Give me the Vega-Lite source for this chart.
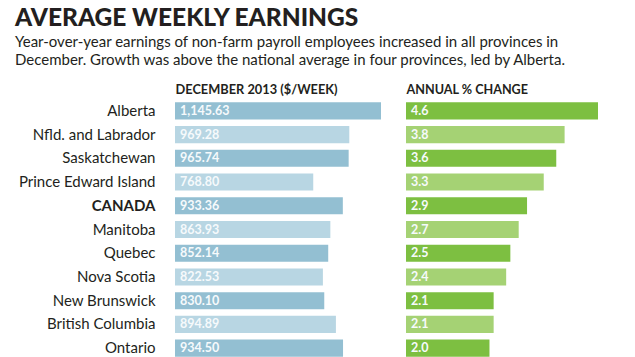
{
  "$schema": "https://vega.github.io/schema/vega-lite/v6.json",
  "width": 620,
  "height": 258,
  "autosize": {"type": "none"},
  "padding": {"left": 15, "top": 99, "right": 0, "bottom": 0},
  "background": "white",
  "config": {"view": {"stroke": null}},
  "title": {
    "text": "AVERAGE WEEKLY EARNINGS",
    "subtitle": ["Year-over-year earnings of non-farm payroll employees increased in all provinces in", "December. Growth was above the national average in four provinces, led by Alberta."],
    "anchor": "start",
    "frame": "group",
    "font": "Lato",
    "fontSize": 24.5,
    "fontWeight": 900,
    "color": "#231f20",
    "subtitleFont": "Lato",
    "subtitleFontSize": 15,
    "subtitleColor": "#231f20",
    "subtitlePadding": 4,
    "subtitleLineHeight": 18,
    "offset": 14
  },
  "data": {"values": [
    {"rank": 1, "province": "Alberta", "earnings": 1145.63, "change": 4.6},
    {"rank": 2, "province": "Nfld. and Labrador", "earnings": 969.28, "change": 3.8},
    {"rank": 3, "province": "Saskatchewan", "earnings": 965.74, "change": 3.6},
    {"rank": 4, "province": "Prince Edward Island", "earnings": 768.80, "change": 3.3},
    {"rank": 5, "province": "CANADA", "earnings": 933.36, "change": 2.9},
    {"rank": 6, "province": "Manitoba", "earnings": 863.93, "change": 2.7},
    {"rank": 7, "province": "Quebec", "earnings": 852.14, "change": 2.5},
    {"rank": 8, "province": "Nova Scotia", "earnings": 822.53, "change": 2.4},
    {"rank": 9, "province": "New Brunswick", "earnings": 830.10, "change": 2.1},
    {"rank": 10, "province": "British Columbia", "earnings": 894.89, "change": 2.1},
    {"rank": 11, "province": "Ontario", "earnings": 934.50, "change": 2.0}
  ]},
  "encoding": {
    "y": {
      "field": "province",
      "type": "nominal",
      "sort": null,
      "scale": {"range": [0, 261], "paddingInner": 0.28, "paddingOuter": 0.14},
      "axis": {
        "title": null,
        "orient": "left",
        "offset": -140,
        "ticks": false,
        "tickSize": 0,
        "domain": false,
        "grid": false,
        "labelPadding": 0,
        "labelFont": "Lato",
        "labelFontSize": 15,
        "labelColor": "#231f20",
        "labelFontWeight": {"condition": {"test": "datum.value == 'CANADA'", "value": "bold"}, "value": "normal"}
      }
    }
  },
  "layer": [
    {
      "encoding": {
        "x": {
          "field": "earnings",
          "type": "quantitative",
          "scale": {"domain": [0, 1145.63], "range": [160, 366], "nice": false, "zero": true},
          "axis": {
            "orient": "top",
            "title": "DECEMBER 2013 ($/WEEK)",
            "labels": false,
            "ticks": false,
            "domain": false,
            "grid": false,
            "titleAnchor": "start",
            "titleAlign": "left",
            "titleBaseline": "alphabetic",
            "titlePadding": 6,
            "titleFont": "Lato",
            "titleFontSize": 12.8,
            "titleFontWeight": "bold",
            "titleColor": "#231f20"
          }
        }
      },
      "layer": [
        {
          "mark": {"type": "bar"},
          "encoding": {
            "color": {"condition": {"test": "datum.rank % 2 == 1", "value": "#93bfd2"}, "value": "#b8d6e3"}
          }
        },
        {
          "mark": {"type": "text", "align": "left", "baseline": "middle", "dx": 5, "font": "Lato", "fontSize": 12.5, "fontWeight": "bold", "color": "#f6fafc"},
          "encoding": {
            "x": {"datum": 0, "type": "quantitative"},
            "text": {"field": "earnings", "type": "quantitative", "format": ",.2f"}
          }
        }
      ]
    },
    {
      "encoding": {
        "x": {
          "field": "change",
          "type": "quantitative",
          "scale": {"domain": [0, 4.6], "range": [391, 583], "nice": false, "zero": true},
          "axis": {
            "orient": "top",
            "title": "ANNUAL % CHANGE",
            "labels": false,
            "ticks": false,
            "domain": false,
            "grid": false,
            "titleAnchor": "start",
            "titleAlign": "left",
            "titleBaseline": "alphabetic",
            "titlePadding": 6,
            "titleFont": "Lato",
            "titleFontSize": 12.6,
            "titleFontWeight": "bold",
            "titleColor": "#231f20"
          }
        }
      },
      "layer": [
        {
          "mark": {"type": "bar"},
          "encoding": {
            "color": {"condition": {"test": "datum.rank % 2 == 1", "value": "#7dbf41"}, "value": "#a5d274"}
          }
        },
        {
          "mark": {"type": "text", "align": "left", "baseline": "middle", "dx": 5, "font": "Lato", "fontSize": 12.5, "fontWeight": "bold", "color": "#f6fafc"},
          "encoding": {
            "x": {"datum": 0, "type": "quantitative"},
            "text": {"field": "change", "type": "quantitative", "format": ".1f"}
          }
        }
      ]
    }
  ],
  "resolve": {"scale": {"x": "independent"}, "axis": {"x": "independent"}}
}
